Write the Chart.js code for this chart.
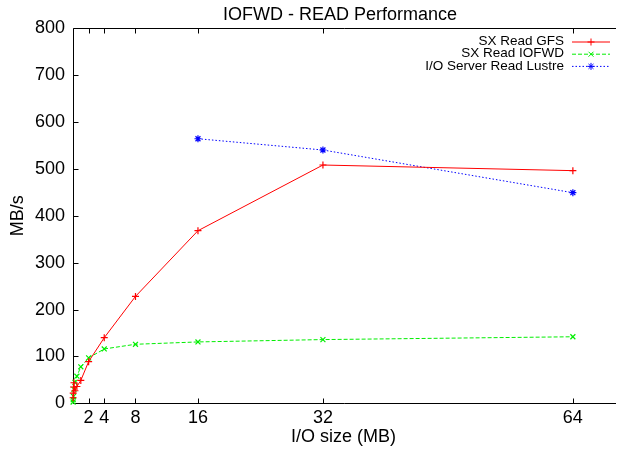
<!DOCTYPE html>
<html><head><meta charset="utf-8">
<script src="https://cdn.jsdelivr.net/npm/chart.js@4"></script>
<style>html,body{margin:0;padding:0;background:#fff}</style>
</head><body>
<canvas id="c" width="619" height="452"></canvas>
<script>
const chartTitle = 'IOFWD - READ Performance';
const xTitle = 'I/O size (MB)';
const yTitle = 'MB/s';
const seriesNames = ['SX Read GFS', 'SX Read IOFWD', 'I/O Server Read Lustre'];
const ioSizes = [1/64, 1/32, 1/16, 1/8, 1/4, 1/2, 1, 2, 4, 8, 16, 32, 64];
const gfsRead = [12, 22, 35, 44, 27, 36, 49, 89, 140, 228, 368, 508, 496];
const iofwdRead = [3, 8, 15, 30, 45, 58, 78, 97, 116, 126, 131, 136, 142];
const lustreSizes = [16, 32, 64];
const lustreRead = [564, 540, 449];
const xTicks = [2, 4, 8, 16, 32, 64];
const yTicks = [0, 100, 200, 300, 400, 500, 600, 700, 800];

const FONT = '"Liberation Sans", Arial, Helvetica, sans-serif';
const pts = (xs, ys) => xs.map((x, i) => ({x, y: ys[i]}));

const styles = [
  {color: '#ff0000', dash: [], point: 'cross'},
  {color: '#00ee00', dash: [4, 2], point: 'crossRot'},
  {color: '#0000ff', dash: [1.5, 2], point: 'star'}
];

const frame = {
  id: 'frame',
  beforeDatasetsDraw(chart) {
    const {ctx, chartArea: a, scales: {x, y}} = chart;
    ctx.save();
    ctx.strokeStyle = '#000';
    ctx.lineWidth = 1;
    ctx.beginPath();
    const L = Math.round(a.left) + 0.5, R = Math.round(a.right) + 2;
    const T = Math.round(a.top) + 0.5, B = Math.round(a.bottom) + 0.5;
    ctx.moveTo(R, T); ctx.lineTo(L, T); ctx.lineTo(L, B); ctx.lineTo(R, B);
    const tl = 5;
    xTicks.forEach(v => {
      const px = Math.round(x.getPixelForValue(v)) + 0.5;
      ctx.moveTo(px, B); ctx.lineTo(px, B - tl);
      ctx.moveTo(px, T); ctx.lineTo(px, T + tl);
    });
    yTicks.forEach(v => {
      const py = Math.round(y.getPixelForValue(v)) + 0.5;
      ctx.moveTo(L, py); ctx.lineTo(L + tl, py);
    });
    ctx.stroke();
    ctx.fillStyle = '#000';
    ctx.font = '18px ' + FONT;
    ctx.textAlign = 'center';
    ctx.textBaseline = 'middle';
    ctx.fillText(chartTitle, 340, 15);
    ctx.restore();
  },
  afterDraw(chart) {
    const {ctx} = chart;
    ctx.save();
    ctx.font = '13.5px ' + FONT;
    ctx.textAlign = 'right';
    ctx.textBaseline = 'middle';
    chart.data.datasets.forEach((ds, i) => {
      const yy = 41.5 + i * 12.2;
      ctx.fillStyle = '#000';
      ctx.fillText(ds.label, 564, yy);
      ctx.strokeStyle = ds.borderColor;
      ctx.lineWidth = 1;
      ctx.setLineDash(ds.borderDash || []);
      ctx.beginPath();
      ctx.moveTo(572, yy + 0.5); ctx.lineTo(610, yy + 0.5);
      ctx.stroke();
      ctx.setLineDash([]);
      Chart.helpers.drawPoint(ctx, {pointStyle: ds.pointStyle, radius: 3.5, borderWidth: 1.2, rotation: 0}, 591, yy + 0.5);
    });
    ctx.restore();
  }
};

const data = [pts(ioSizes, gfsRead), pts(ioSizes, iofwdRead), pts(lustreSizes, lustreRead)];

new Chart(document.getElementById('c'), {
  type: 'scatter',
  data: {
    datasets: data.map((d, i) => ({
      label: seriesNames[i],
      data: d,
      showLine: true,
      borderColor: styles[i].color,
      backgroundColor: styles[i].color,
      borderWidth: 1,
      borderDash: styles[i].dash,
      pointStyle: styles[i].point,
      pointRadius: 3.5,
      pointBorderWidth: 1.2,
      pointBorderColor: styles[i].color,
      clip: false
    }))
  },
  options: {
    responsive: false,
    animation: false,
    devicePixelRatio: 1,
    layout: {padding: {top: 28, right: 0, left: 0, bottom: 0}},
    plugins: {legend: {display: false}, tooltip: {enabled: false}, title: {display: false}},
    scales: {
      x: {
        type: 'linear', min: 0, max: 69.24,
        grid: {display: false, drawTicks: false},
        border: {display: false},
        afterBuildTicks: s => { s.ticks = xTicks.map(v => ({value: v})); },
        afterFit: s => { s.height = 48.6; },
        ticks: {color: '#000', font: {family: FONT, size: 18}, padding: 4, maxRotation: 0, autoSkip: false},
        title: {display: true, text: xTitle, color: '#000', font: {family: FONT, size: 18}, padding: {top: 0, bottom: 4.5}}
      },
      y: {
        type: 'linear', min: 0, max: 800,
        grid: {display: false, drawTicks: false},
        border: {display: false},
        afterBuildTicks: s => { s.ticks = yTicks.map(v => ({value: v})); },
        afterFit: s => { s.width = 73; },
        ticks: {color: '#000', font: {family: FONT, size: 18}, padding: 8},
        title: {display: true, text: yTitle, color: '#000', font: {family: FONT, size: 18}, padding: {top: 7, bottom: 0}}
      }
    }
  },
  plugins: [frame]
});
</script>
</body></html>
